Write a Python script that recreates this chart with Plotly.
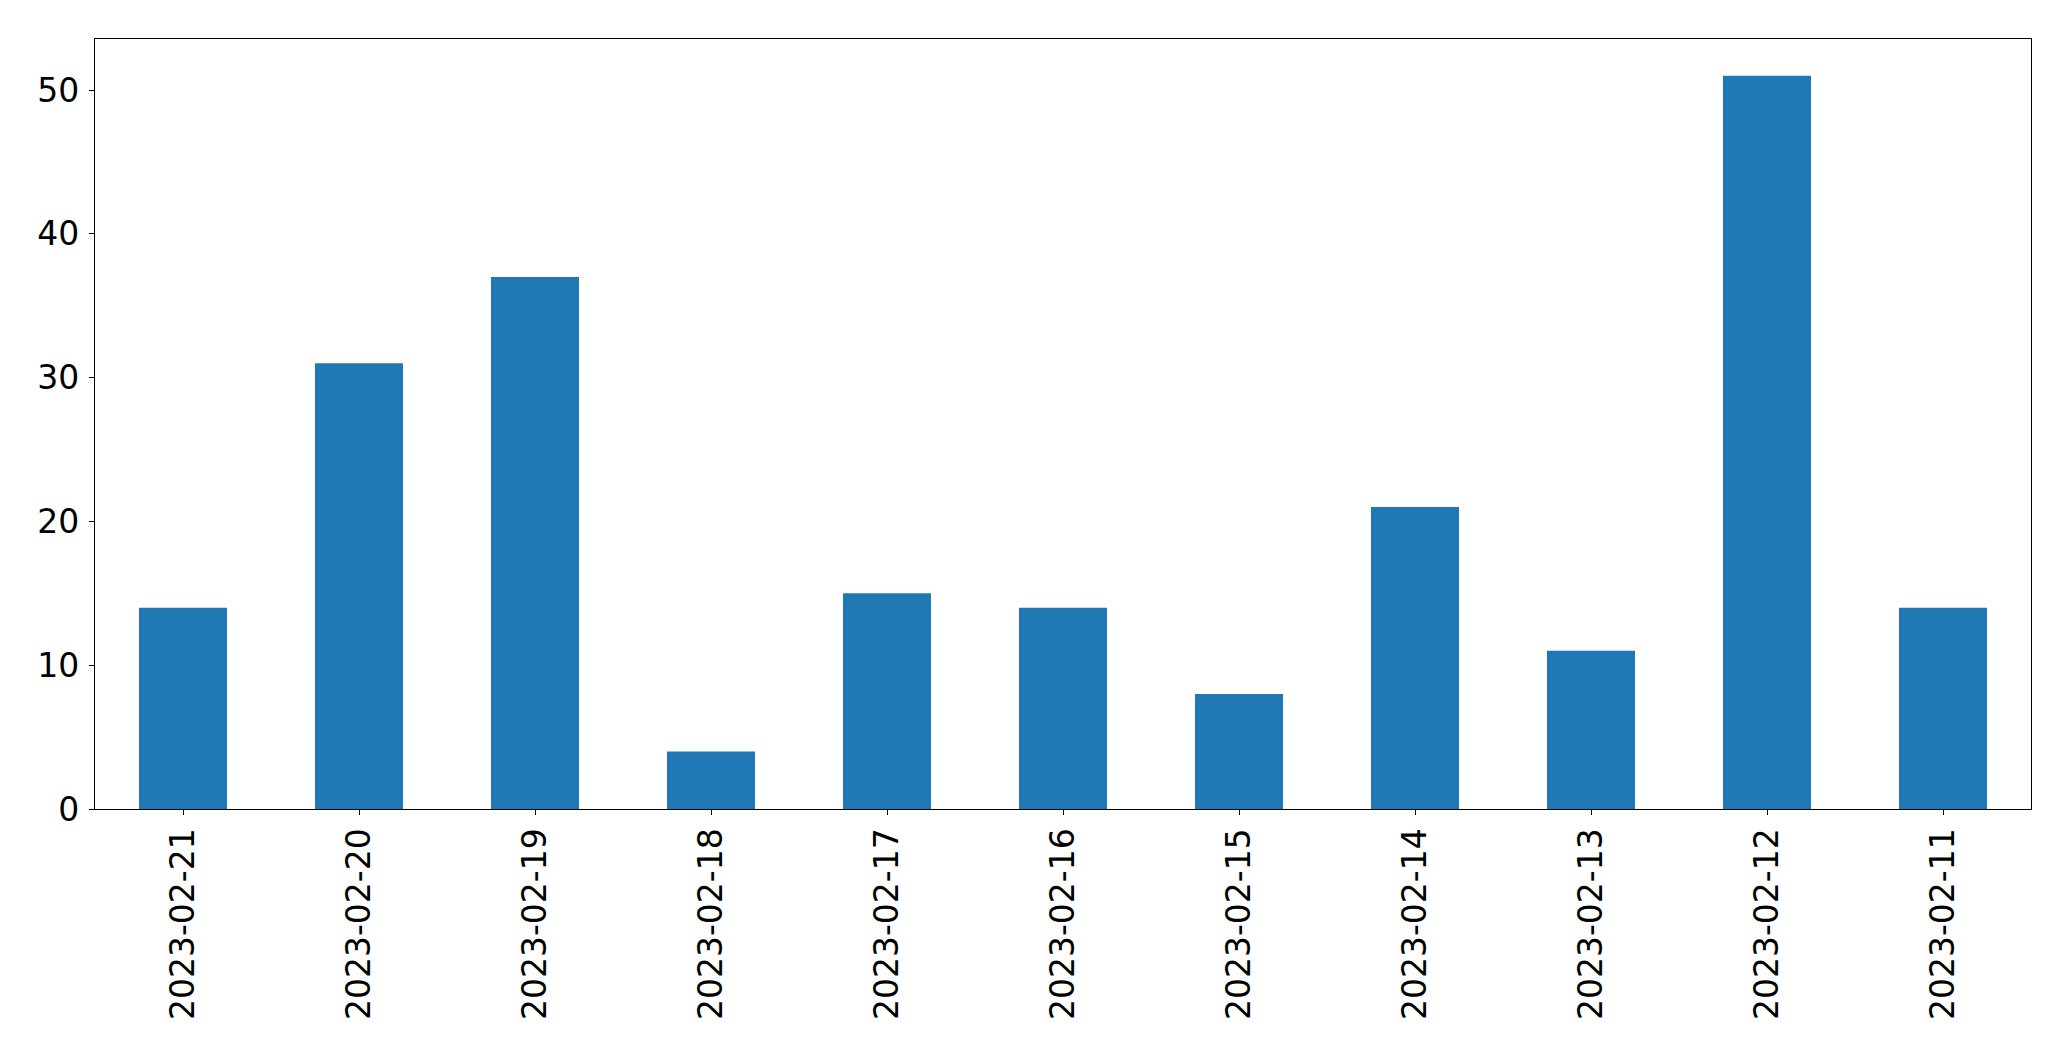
import plotly.graph_objects as go

dates = ["2023-02-21", "2023-02-20", "2023-02-19", "2023-02-18", "2023-02-17", "2023-02-16",
         "2023-02-15", "2023-02-14", "2023-02-13", "2023-02-12", "2023-02-11"]
counts = [14, 31, 37, 4, 15, 14, 8, 21, 11, 51, 14]

fig = go.Figure()
fig.add_trace(go.Bar(x=list(range(len(dates))), y=counts, width=0.5,
                     marker=dict(color="#1f77b4", line=dict(width=0))))

axis_common = dict(showline=True, linecolor="black", linewidth=1.1, mirror=True,
                   ticks="outside", ticklen=5, tickwidth=1.1, tickcolor="black",
                   showgrid=False, zeroline=False,
                   tickfont=dict(family="DejaVu Sans", size=33, color="black"))

fig.update_layout(
    width=2055, height=1045,
    margin=dict(l=87, r=32, t=31, b=244, pad=0),
    paper_bgcolor="white", plot_bgcolor="white",
    showlegend=False,
    xaxis=dict(range=[-0.5, len(dates) - 0.5], tickmode="array",
               tickvals=list(range(len(dates))), ticktext=dates, tickangle=-90,
               ticklabelstandoff=0, **axis_common),
    yaxis=dict(range=[0, max(counts) * 1.05], tickmode="array",
               tickvals=[0, 10, 20, 30, 40, 50], ticklabelstandoff=3, **axis_common),
)

fig.write_html("out.html")
